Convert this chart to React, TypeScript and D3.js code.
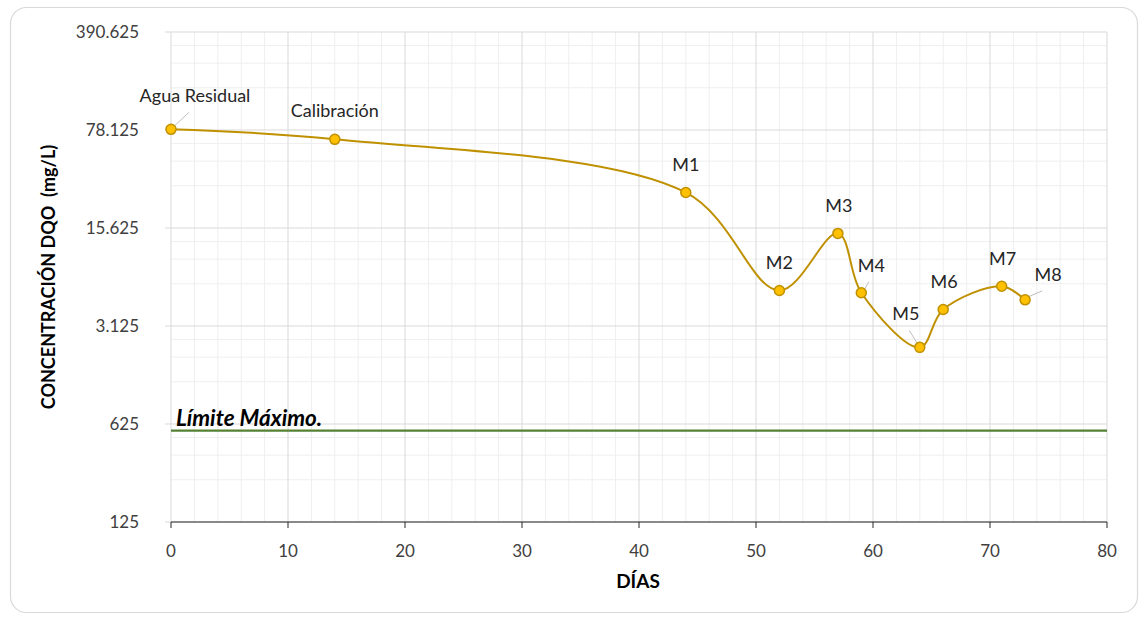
import React from "react";
import * as d3 from "d3";

const labels = ["Agua Residual", "Calibración", "M1", "M2", "M3", "M4", "M5", "M6", "M7", "M8"];
const days = [0, 14, 44, 52, 57, 59, 64, 66, 71, 73];
const dqo = [79000, 67000, 28000, 5600, 14300, 5400, 2200, 4100, 6000, 4800];
const limitValue = 560;
const yTicks = [125, 625, 3125, 15625, 78125, 390625];
const xTicks = [0, 10, 20, 30, 40, 50, 60, 70, 80];

// label offsets (dx, dy) relative to point, and leader flag
const labelPos: [number, number, boolean][] = [
  [24, -27, true],
  [0, -22, false],
  [0, -21, false],
  [0, -21, false],
  [1, -21, false],
  [10, -21, true],
  [-14, -27, true],
  [1, -21, false],
  [1, -21, false],
  [23, -19, true],
];

const W = 1141, H = 617;
const L = 171, R = 1107, T = 32, B = 522;
const FONT = "Lato, 'Open Sans', sans-serif";

export default function App() {
  const x = d3.scaleLinear().domain([0, 80]).range([L, R]);
  const y = d3.scaleLog().base(5).domain([125, 390625]).range([B, T]);

  const minorY: number[] = [];
  for (let i = 0; i < yTicks.length - 1; i++) {
    for (const k of [2, 3, 4]) minorY.push(yTicks[i] * k);
  }
  const minorX = d3.range(0, 81, 2).filter((v) => v % 10 !== 0);

  const pts: [number, number][] = days.map((d, i) => [x(d), y(dqo[i])]);
  const line = d3.line().curve(d3.curveCatmullRom.alpha(0.5))(pts) || "";
  const fmt = (v: number) => d3.format(",")(v).replace(/,/g, ".");

  return (
    <svg width={W} height={H} style={{ position: "absolute", left: 0, top: 0, display: "block" }} fontFamily={FONT}>
      <rect x={0} y={0} width={W} height={H} fill="#fff" />
      <rect x={10.5} y={7.5} width={1127} height={605} rx={16} fill="#fff" stroke="#d9d9d9" strokeWidth={1.2} />
      {minorX.map((v) => (
        <line key={"mx" + v} x1={x(v)} x2={x(v)} y1={T} y2={B} stroke="#efefef" strokeWidth={1} />
      ))}
      {minorY.map((v) => (
        <line key={"my" + v} x1={L} x2={R} y1={y(v)} y2={y(v)} stroke="#efefef" strokeWidth={1} />
      ))}
      {xTicks.map((v) => (
        <line key={"gx" + v} x1={x(v)} x2={x(v)} y1={T} y2={B} stroke="#d9d9d9" strokeWidth={1} />
      ))}
      {yTicks.map((v) => (
        <g key={"gy" + v}>
          <line x1={L - 6} x2={R} y1={y(v)} y2={y(v)} stroke="#d9d9d9" strokeWidth={1} />
          <text x={139} y={y(v)} dy="0.35em" textAnchor="end" fontSize={17} fill="#404040">
            {fmt(v)}
          </text>
        </g>
      ))}
      <line x1={L} x2={R} y1={B} y2={B} stroke="#262626" strokeWidth={1.2} />
      {xTicks.map((v) => (
        <g key={"tx" + v}>
          <line x1={x(v)} x2={x(v)} y1={B} y2={B + 6} stroke="#262626" strokeWidth={1} />
          <text x={x(v)} y={B + 35} textAnchor="middle" fontSize={17} fill="#404040">
            {v}
          </text>
        </g>
      ))}
      <line x1={L} x2={R} y1={y(limitValue)} y2={y(limitValue)} stroke="#548235" strokeWidth={2.2} />
      <text x={176} y={y(limitValue) - 5} fontSize={22.5} fontWeight="bold" fontStyle="italic" fill="#000">
        Límite Máximo.
      </text>
      <path d={line} fill="none" stroke="#bf9000" strokeWidth={2} />
      {pts.map(([px, py], i) => {
        const [dx, dy, leader] = labelPos[i];
        return (
          <g key={"p" + i}>
            {leader && (
              <line
                x1={px + (dx > 0 ? 3 : -2)}
                y1={py - 3}
                x2={px + dx * 0.75}
                y2={py + dy + 10}
                stroke="#bfbfbf"
                strokeWidth={1}
              />
            )}
            <circle cx={px} cy={py} r={5} fill="#ffc000" stroke="#bf9000" strokeWidth={1.5} />
            <text x={px + dx} y={py + dy} textAnchor="middle" fontSize={18} fill="#262626">
              {labels[i]}
            </text>
          </g>
        );
      })}
      <text
        transform={`translate(55,277) rotate(-90)`}
        textAnchor="middle"
        fontSize={18}
        fontWeight="bold"
        fill="#000"
        style={{ whiteSpace: "pre" }}
      >
        {"CONCENTRACIÓN DQO  (mg/L)"}
      </text>
      <text x={638} y={588} textAnchor="middle" fontSize={19} fontWeight="bold" fill="#000">
        DÍAS
      </text>
    </svg>
  );
}
